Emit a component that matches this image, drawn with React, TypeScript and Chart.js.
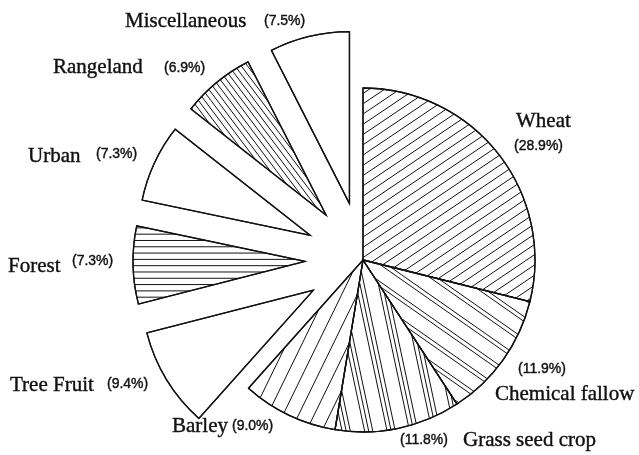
import React, { useEffect, useRef } from 'react';
import { Chart, registerables } from 'chart.js';

Chart.register(...registerables);

// ---- data ----
const categories = [
  'Wheat',
  'Chemical fallow',
  'Grass seed crop',
  'Barley',
  'Tree Fruit',
  'Forest',
  'Urban',
  'Rangeland',
  'Miscellaneous',
];
const shares = [28.9, 11.9, 11.8, 9.0, 9.4, 7.3, 7.3, 6.9, 7.5];
const percentLabels = ['(28.9%)', '(11.9%)', '(11.8%)', '(9.0%)', '(9.4%)', '(7.3%)', '(7.3%)', '(6.9%)', '(7.5%)'];

// ---- styles ----
const explodeOffsets = [0, 0, 0, 0, 58, 58, 58, 58, 58];
// hatch line angle in degrees (visual, positive = rising to the right), spacing period and line groups
const hatchAngles = [34, -35, -78, 64, 0, 0, 0, -53, 0];
const hatchPeriods = [8.5, 18, 22, 14, 0, 6.3, 0, 5, 0];
const hatchGroups: number[][] = [[0], [0, 4], [0, 4, 8], [0], [], [0], [], [0], []];

const labelLayout: { name: [number, number]; pct: [number, number] }[] = [
  { name: [516, 127], pct: [514, 150] },
  { name: [495, 400], pct: [518, 373] },
  { name: [463, 446], pct: [400, 444] },
  { name: [172, 432], pct: [232, 430] },
  { name: [10, 391], pct: [107, 388] },
  { name: [8, 272], pct: [72, 265] },
  { name: [28, 162], pct: [96, 158] },
  { name: [53, 73], pct: [164, 72] },
  { name: [125, 27], pct: [264, 25] },
];

const INK = '#111';

const explodePlugin = {
  id: 'explodeSlices',
  afterDatasetUpdate(chart: any, args: any) {
    const { chartArea } = chart;
    const cx = (chartArea.left + chartArea.right) / 2;
    const cy = (chartArea.top + chartArea.bottom) / 2;
    args.meta.data.forEach((el: any, i: number) => {
      const d = explodeOffsets[i] || 0;
      const mid = (el.startAngle + el.endAngle) / 2;
      el.x = cx + Math.cos(mid) * d;
      el.y = cy + Math.sin(mid) * d;
    });
  },
};

const hatchPlugin = {
  id: 'hatchSlices',
  afterDatasetsDraw(chart: any) {
    const ctx: CanvasRenderingContext2D = chart.ctx;
    const meta = chart.getDatasetMeta(0);
    meta.data.forEach((el: any, i: number) => {
      const period = hatchPeriods[i];
      const { x, y, startAngle, endAngle, outerRadius } = el;
      const R = outerRadius;
      const path = () => {
        ctx.beginPath();
        ctx.moveTo(x, y);
        ctx.arc(x, y, R, startAngle, endAngle);
        ctx.closePath();
      };
      if (period > 0) {
        ctx.save();
        path();
        ctx.clip();
        const a = (hatchAngles[i] * Math.PI) / 180;
        const dx = Math.cos(a);
        const dy = -Math.sin(a);
        const nx = -dy;
        const ny = dx;
        ctx.strokeStyle = INK;
        ctx.lineWidth = 1;
        ctx.beginPath();
        for (let t = -R - period; t <= R + period; t += period) {
          for (const off of hatchGroups[i]) {
            const px = x + nx * (t + off);
            const py = y + ny * (t + off);
            ctx.moveTo(px - dx * (R + 10), py - dy * (R + 10));
            ctx.lineTo(px + dx * (R + 10), py + dy * (R + 10));
          }
        }
        ctx.stroke();
        ctx.restore();
      }
      ctx.save();
      path();
      ctx.strokeStyle = INK;
      ctx.lineWidth = 1.3;
      ctx.lineJoin = 'miter';
      ctx.stroke();
      ctx.restore();
    });
  },
};

const labelPlugin = {
  id: 'sliceLabels',
  afterDraw(chart: any) {
    const ctx: CanvasRenderingContext2D = chart.ctx;
    ctx.save();
    ctx.fillStyle = INK;
    ctx.strokeStyle = INK;
    ctx.lineWidth = 0.4;
    ctx.textAlign = 'left';
    ctx.textBaseline = 'alphabetic';
    categories.forEach((name, i) => {
      const lay = labelLayout[i];
      ctx.font = '21px "Liberation Serif", "Times New Roman", serif';
      ctx.fillText(name, lay.name[0], lay.name[1]);
      ctx.strokeText(name, lay.name[0], lay.name[1]);
      ctx.font = '14px "Liberation Sans", Arial, sans-serif';
      ctx.fillText(percentLabels[i], lay.pct[0], lay.pct[1]);
      ctx.strokeText(percentLabels[i], lay.pct[0], lay.pct[1]);
    });
    ctx.restore();
  },
};

export default function App() {
  const canvasRef = useRef<HTMLCanvasElement | null>(null);

  useEffect(() => {
    if (!canvasRef.current) return;
    const chart = new Chart(canvasRef.current, {
      type: 'pie',
      data: {
        labels: categories,
        datasets: [
          {
            data: shares,
            backgroundColor: '#ffffff',
            borderColor: INK,
            borderWidth: 1.3,
          },
        ],
      },
      options: {
        responsive: false,
        animation: false,
        radius: 172,
        layout: { padding: { left: 87, top: 65, right: 0, bottom: 0 } },
        plugins: {
          legend: { display: false },
          tooltip: { enabled: false },
          title: { display: false },
        },
        events: [],
      } as any,
      plugins: [explodePlugin, hatchPlugin, labelPlugin],
    });
    return () => chart.destroy();
  }, []);

  return (
    <div style={{ position: 'absolute', left: 0, top: 0, width: 639, height: 455, background: '#fff' }}>
      <canvas ref={canvasRef} width={639} height={455} style={{ display: 'block' }} />
    </div>
  );
}
